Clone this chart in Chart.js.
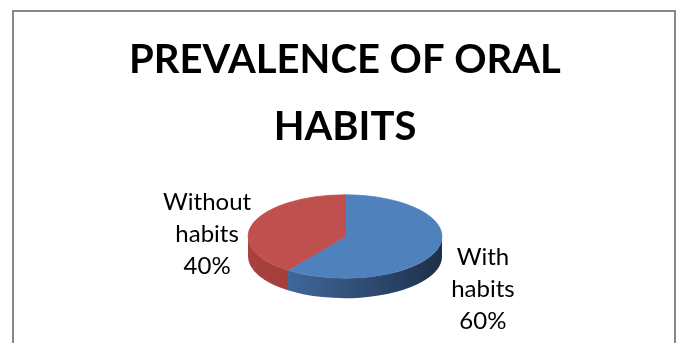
<!DOCTYPE html>
<html>
<head>
<meta charset="utf-8">
<script src="https://cdn.jsdelivr.net/npm/chart.js@4"></script>
<style>
    body { margin: 0; background: #ffffff; overflow: hidden; }
    #frame {
        position: absolute;
        left: 12px;
        top: 10px;
        width: 660px;
        height: 400px;
        border: 2px solid #878787;
    }
    #chart { position: absolute; left: 0; top: 0; }
</style>
</head>
<body>
<div id="frame"></div>
<canvas id="chart" width="680" height="343"></canvas>
<script>
// Daten
const titleLines = ['PREVALENCE OF ORAL', 'HABITS'];
const categories = ['With habits', 'Without habits'];
const values = [60, 40];
const sliceColors = ['#4F81BD', '#C0504D'];
const sideColors = [['#4A76AE', '#1D304A'], ['#A9423F', '#8A302E']];

// Aussehen der 3D-Torte
const tilt = 0.43;   // Verhältnis Höhe/Breite der Ellipse
const depth = 20;    // Dicke der Torte

// Mappt den Kreis von Chart.js auf eine liegende Ellipse und zeichnet den Rand
const pie3d = {
    id: 'pie3d',
    beforeDatasetsDraw(chart) {
        const ctx = chart.ctx;
        const meta = chart.getDatasetMeta(0);
        const area = chart.chartArea;
        const first = meta.data[0];
        const cx = first.x, cy = first.y, r = first.outerRadius;
        const ry = r * tilt;
        const ecy = (area.top + area.bottom) / 2 - depth / 2;
        chart.$pie = { cx, cy, r, ry, ecy };

        // Seitenwand (nur die vordere Hälfte ist sichtbar)
        meta.data.forEach((arc, i) => {
            [0, Math.PI * 2].forEach(shift => {
                const a = Math.max(arc.startAngle, shift);
                const b = Math.min(arc.endAngle, shift + Math.PI);
                if (b <= a) return;
                const grad = ctx.createLinearGradient(cx - r, 0, cx + r, 0);
                grad.addColorStop(0, sideColors[i][0]);
                grad.addColorStop(1, sideColors[i][1]);
                ctx.beginPath();
                ctx.ellipse(cx, ecy, r, ry, 0, a, b);
                ctx.ellipse(cx, ecy + depth, r, ry, 0, b, a, true);
                ctx.closePath();
                ctx.fillStyle = grad;
                ctx.fill();
            });
        });

        // Deckfläche: Chart.js zeichnet die Segmente gestaucht
        ctx.save();
        ctx.translate(0, ecy);
        ctx.scale(1, tilt);
        ctx.translate(0, -cy);
    },
    afterDatasetsDraw(chart) {
        const ctx = chart.ctx;
        ctx.restore();

        // Beschriftungen außerhalb der Torte
        const p = chart.$pie;
        const meta = chart.getDatasetMeta(0);
        const total = values.reduce((s, v) => s + v, 0);
        ctx.save();
        ctx.font = '24px Lato';
        ctx.fillStyle = '#000000';
        ctx.textAlign = 'center';
        ctx.textBaseline = 'middle';
        meta.data.forEach((arc, i) => {
            const mid = (arc.startAngle + arc.endAngle) / 2;
            const x = p.cx + Math.cos(mid) * (p.r + 48);
            const y = p.ecy + depth + 5 + Math.sin(mid) * (p.ry + 47);
            const lines = categories[i].split(' ');
            lines.push(Math.round(values[i] / total * 100) + '%');
            const lh = 32;
            lines.forEach((t, j) => {
                ctx.fillText(t, x, y + (j - (lines.length - 1) / 2) * lh);
            });
        });
        ctx.restore();
    }
};

new Chart(document.getElementById('chart'), {
    type: 'pie',
    data: {
        labels: categories,
        datasets: [{
            data: values,
            backgroundColor: sliceColors,
            borderColor: sliceColors,
            borderWidth: 1,
            radius: 97,
            clip: false
        }]
    },
    options: {
        responsive: false,
        animation: false,
        events: [],
        layout: { padding: { left: 20, right: 10, top: 0, bottom: 11 } },
        plugins: {
            legend: { display: false },
            tooltip: { enabled: false },
            title: {
                display: true,
                text: titleLines,
                color: '#000000',
                font: { family: 'Lato', size: 40, weight: 'bold', lineHeight: 1.675 },
                padding: { top: 27, bottom: 0 }
            }
        }
    },
    plugins: [pie3d]
});
</script>
</body>
</html>
